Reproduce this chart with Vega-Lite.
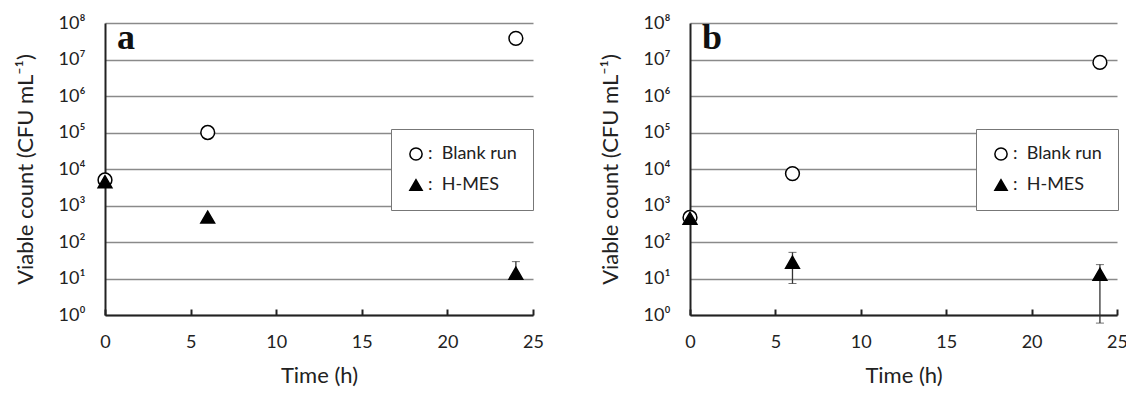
{
  "$schema": "https://vega.github.io/schema/vega-lite/v6.json",
  "background": "white",
  "padding": {"left": 14, "top": 14, "right": 5, "bottom": 5},
  "datasets": {
    "a": [
      {"t": 0, "v": 5000, "series": "Blank run"},
      {"t": 6, "v": 100000, "series": "Blank run"},
      {"t": 24, "v": 38000000, "series": "Blank run"},
      {"t": 0, "v": 4500, "series": "H-MES"},
      {"t": 6, "v": 480, "series": "H-MES"},
      {"t": 24, "v": 14, "series": "H-MES", "lo": 10, "hi": 29}
    ],
    "b": [
      {"t": 0, "v": 470, "series": "Blank run"},
      {"t": 6, "v": 7500, "series": "Blank run"},
      {"t": 24, "v": 8300000, "series": "Blank run"},
      {"t": 0, "v": 450, "series": "H-MES"},
      {"t": 6, "v": 28, "series": "H-MES", "lo": 7.3, "hi": 52},
      {"t": 24, "v": 13, "series": "H-MES", "lo": 0.6, "hi": 24}
    ]
  },
  "config": {
    "view": {"stroke": null},
    "font": "Lato",
    "axis": {
      "labelFont": "Lato",
      "titleFont": "Lato",
      "labelFontSize": 18,
      "titleFontSize": 22,
      "labelColor": "#222",
      "titleColor": "#222",
      "titleFontWeight": "normal",
      "domainColor": "#222",
      "domainWidth": 2,
      "labelFlush": false
    },
    "legend": {
      "labelFont": "Lato",
      "labelFontSize": 18,
      "labelColor": "#222"
    }
  },
  "spacing": 55,
  "hconcat": [
    {
      "width": 428,
      "height": 292,
      "title": {"text": "a", "font": "Liberation Serif", "fontSize": 36, "fontWeight": "bold", "color": "#111", "anchor": "start", "frame": "group", "dx": 12, "dy": 43, "offset": 0},
      "data": {"name": "a"},
      "layer": [
        {
          "mark": {"type": "errorbar", "ticks": {"size": 8, "color": "#333"}, "rule": {"color": "#333", "strokeWidth": 1.3}},
          "transform": [{"filter": "isValid(datum.hi)"}],
          "encoding": {
            "x": {"field": "t", "type": "quantitative", "scale": {"domain": [0, 25]}, "title": "Time (h)"},
            "y": {"field": "lo", "type": "quantitative", "scale": {"type": "log", "domain": [1, 100000000]}, "title": "Viable count (CFU mL⁻¹)"},
            "y2": {"field": "hi"}
          }
        },
        {
          "mark": {"type": "point", "filled": false, "strokeWidth": 1.5, "opacity": 1, "size": 190},
          "encoding": {
            "x": {"field": "t", "type": "quantitative", "scale": {"domain": [0, 25]},
              "axis": {"title": "Time (h)", "values": [0, 5, 10, 15, 20, 25], "grid": false, "tickSize": -6, "tickColor": "#222", "tickWidth": 2, "labelPadding": 24, "titlePadding": 14}},
            "y": {"field": "v", "type": "quantitative", "scale": {"type": "log", "domain": [1, 100000000]},
              "axis": {"title": "Viable count (CFU mL⁻¹)", "values": [1, 10, 100, 1000, 10000, 100000, 1000000, 10000000, 100000000], "labelExpr": "'10' + ['⁰','¹','²','³','⁴','⁵','⁶','⁷','⁸'][round(log(datum.value)/LN10)]", "ticks": false, "labelPadding": 20, "titlePadding": 21, "gridColor": "#8a8a8a", "gridWidth": 1.5, "gridOpacity": 1}},
            "shape": {"field": "series", "type": "nominal", "scale": {"domain": ["Blank run", "H-MES"], "range": ["circle", "triangle-up"]},
              "legend": {"title": null, "orient": "none", "legendX": 286, "legendY": 106, "padding": 16, "rowPadding": 12, "strokeColor": "#777", "fillColor": "white", "symbolSize": 150, "labelExpr": "':\u00a0\u00a0' + datum.label", "labelOffset": 3, "labelLimit": 200,
                "encode": {"symbols": {"update": {"stroke": {"value": "black"}, "strokeWidth": {"value": 1.5}}}}}},
            "fill": {"field": "series", "type": "nominal", "scale": {"domain": ["Blank run", "H-MES"], "range": ["white", "black"]},
              "legend": {"title": null, "orient": "none", "legendX": 286, "legendY": 106, "padding": 16, "rowPadding": 12, "strokeColor": "#777", "fillColor": "white", "symbolSize": 150, "labelExpr": "':\u00a0\u00a0' + datum.label", "labelOffset": 3, "labelLimit": 200,
                "encode": {"symbols": {"update": {"stroke": {"value": "black"}, "strokeWidth": {"value": 1.5}}}}}},
            "stroke": {"value": "black"}
          }
        }
      ]
    },
    {
      "width": 427,
      "height": 292,
      "title": {"text": "b", "font": "Liberation Serif", "fontSize": 36, "fontWeight": "bold", "color": "#111", "anchor": "start", "frame": "group", "dx": 12, "dy": 43, "offset": 0},
      "data": {"name": "b"},
      "layer": [
        {
          "mark": {"type": "errorbar", "ticks": {"size": 8, "color": "#333"}, "rule": {"color": "#333", "strokeWidth": 1.3}},
          "transform": [{"filter": "isValid(datum.hi)"}],
          "encoding": {
            "x": {"field": "t", "type": "quantitative", "scale": {"domain": [0, 25]}, "title": "Time (h)"},
            "y": {"field": "lo", "type": "quantitative", "scale": {"type": "log", "domain": [1, 100000000]}, "title": "Viable count (CFU mL⁻¹)"},
            "y2": {"field": "hi"}
          }
        },
        {
          "mark": {"type": "point", "filled": false, "strokeWidth": 1.5, "opacity": 1, "size": 190},
          "encoding": {
            "x": {"field": "t", "type": "quantitative", "scale": {"domain": [0, 25]},
              "axis": {"title": "Time (h)", "values": [0, 5, 10, 15, 20, 25], "grid": false, "tickSize": -6, "tickColor": "#222", "tickWidth": 2, "labelPadding": 24, "titlePadding": 14}},
            "y": {"field": "v", "type": "quantitative", "scale": {"type": "log", "domain": [1, 100000000]},
              "axis": {"title": "Viable count (CFU mL⁻¹)", "values": [1, 10, 100, 1000, 10000, 100000, 1000000, 10000000, 100000000], "labelExpr": "'10' + ['⁰','¹','²','³','⁴','⁵','⁶','⁷','⁸'][round(log(datum.value)/LN10)]", "ticks": false, "labelPadding": 20, "titlePadding": 21, "gridColor": "#8a8a8a", "gridWidth": 1.5, "gridOpacity": 1}},
            "shape": {"field": "series", "type": "nominal", "scale": {"domain": ["Blank run", "H-MES"], "range": ["circle", "triangle-up"]},
              "legend": {"title": null, "orient": "none", "legendX": 286, "legendY": 106, "padding": 16, "rowPadding": 12, "strokeColor": "#777", "fillColor": "white", "symbolSize": 150, "labelExpr": "':\u00a0\u00a0' + datum.label", "labelOffset": 3, "labelLimit": 200,
                "encode": {"symbols": {"update": {"stroke": {"value": "black"}, "strokeWidth": {"value": 1.5}}}}}},
            "fill": {"field": "series", "type": "nominal", "scale": {"domain": ["Blank run", "H-MES"], "range": ["white", "black"]},
              "legend": {"title": null, "orient": "none", "legendX": 286, "legendY": 106, "padding": 16, "rowPadding": 12, "strokeColor": "#777", "fillColor": "white", "symbolSize": 150, "labelExpr": "':\u00a0\u00a0' + datum.label", "labelOffset": 3, "labelLimit": 200,
                "encode": {"symbols": {"update": {"stroke": {"value": "black"}, "strokeWidth": {"value": 1.5}}}}}},
            "stroke": {"value": "black"}
          }
        }
      ]
    }
  ],
  "resolve": {"legend": {"shape": "independent", "fill": "independent"}}
}
